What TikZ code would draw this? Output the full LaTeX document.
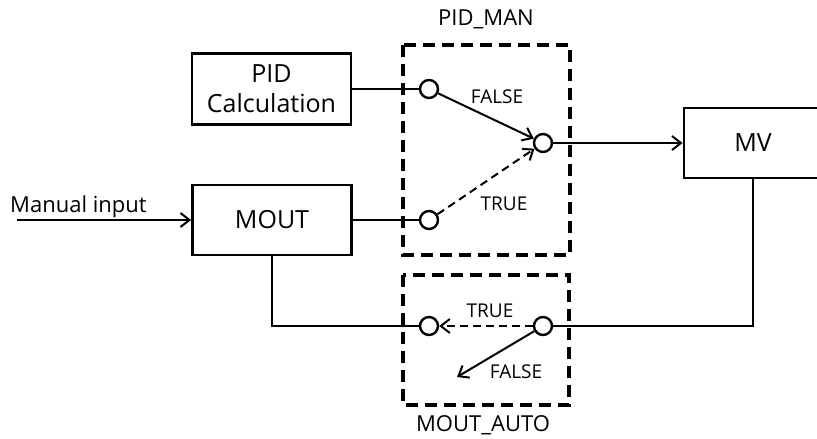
\documentclass[tikz,border=0pt]{standalone}
\usepackage{fontspec}
\setmainfont{Open Sans}
\usetikzlibrary{arrows.meta}
\begin{document}
\begin{tikzpicture}[x=1pt,y=-1pt,
  blk/.style={draw,line width=2.8pt,inner sep=0pt,align=center,font=\fontsize{25}{30}\selectfont},
  sw/.style={draw,circle,line width=2.4pt,minimum size=18pt,inner sep=0pt,fill=white},
  wire/.style={line width=2pt},
  arr/.style={wire,-{Straight Barb[length=9pt,width=14pt,line width=2pt]}},
  dsh/.style={dash pattern=on 8pt off 5pt},
  grp/.style={line width=3.2pt,dash pattern=on 12pt off 7pt},
  lbl/.style={font=\fontsize{22}{24}\selectfont,anchor=base,inner sep=0pt},
  tf/.style={font=\fontsize{19}{20}\selectfont,anchor=base,inner sep=0pt}]
\useasboundingbox (0,0) rectangle (817,439);
\clip (0,0) rectangle (817,439);
\fill[white] (0,0) rectangle (817,439);

\node[blk,minimum width=159pt,minimum height=71pt] (pid) at (271.5,89) {PID\\Calculation};
\node[blk,minimum width=159pt,minimum height=70pt] (mout) at (272,220) {MOUT};
\node[blk,minimum width=138pt,minimum height=70pt] (mv) at (753,143) {MV};

\draw[grp] (403,45) rectangle (570,255);
\draw[grp] (403,275) rectangle (569,405);

\node[sw] (s1) at (429,89) {};
\node[sw] (s2) at (543,143) {};
\node[sw] (s3) at (429,220) {};
\node[sw] (s4) at (429,326) {};
\node[sw] (s5) at (543,326) {};

\coordinate (mi) at (17,220);
\coordinate (fe) at (457,377);

\draw[wire] (pid) -- (s1);
\draw[wire] (mout) -- (s3);
\draw[arr] (s1) -- (s2);
\draw[arr,dsh] (s3) -- (s2);
\draw[arr] (s2) -- (mv);
\draw[arr] (mi) -- (mout);
\draw[wire] (mout.south) |- (s4);
\draw[wire] (mv.south) |- (s5);
\draw[arr,dsh] (s5) -- (s4);
\draw[arr] (s5) -- (fe);

\node[lbl] (pm) at (486,25) {PID\_MAN};
\node[lbl] (ma) at (483,431) {MOUT\_AUTO};
\node[lbl,anchor=base west] (man) at (10,212) {Manual input};
\node[tf] (f1) at (497,103) {FALSE};
\node[tf] (t1) at (504,210) {TRUE};
\node[tf] (t2) at (490,317) {TRUE};
\node[tf] (f2) at (516,378) {FALSE};
\end{tikzpicture}
\end{document}
